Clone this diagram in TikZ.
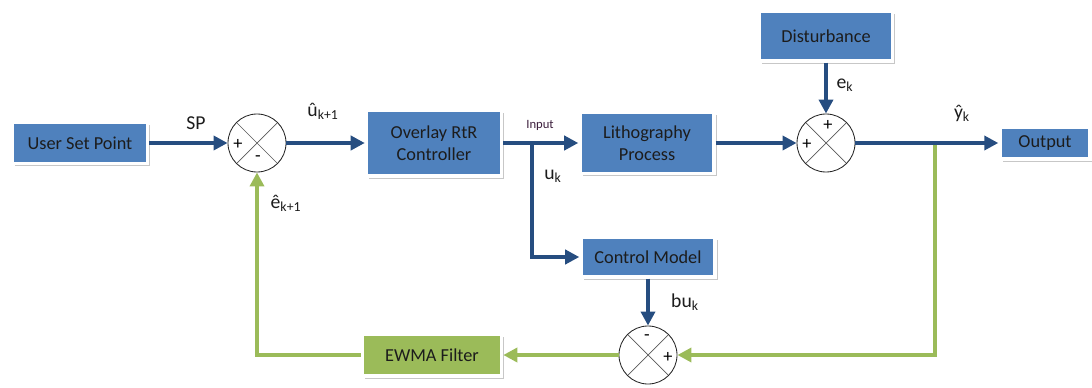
\documentclass[tikz,border=0pt]{standalone}
\usepackage{fontspec}
\setmainfont{Carlito}
\usetikzlibrary{arrows.meta,positioning,shadows}
\definecolor{ovlBlue}{HTML}{4F81BD}
\definecolor{ovlNavy}{HTML}{264D80}
\definecolor{ovlGreen}{HTML}{9BBB59}
\definecolor{ovlText}{HTML}{1C1C1C}
\definecolor{ovlPurple}{HTML}{3C1E3C}

\begin{document}
\begin{tikzpicture}[x=0.025cm,y=-0.025cm,font=\fontsize{13}{15.5}\selectfont,
    blk/.style={draw=white,line width=2.4pt,fill=ovlBlue,text=ovlText,
                align=center,inner sep=2pt,
                drop shadow={shadow xshift=2pt,shadow yshift=-2pt,fill=black!22,opacity=1}},
    gblk/.style={blk,fill=ovlGreen},
    sum/.style={circle,draw=black!85,line width=0.6pt,fill=white,
                minimum size=1.45cm,inner sep=0pt,
                path picture={\draw[black!65,line width=0.5pt]
                  (path picture bounding box.north west) -- (path picture bounding box.south east)
                  (path picture bounding box.north east) -- (path picture bounding box.south west);}},
    flow/.style={draw=ovlNavy,line width=3pt,-{Triangle[length=10pt,width=10pt]}},
    fb/.style={draw=ovlGreen,line width=3pt,-{Triangle[length=10pt,width=10pt]}},
    sgn/.style={font=\fontsize{13}{13}\selectfont,inner sep=0pt},
    lbl/.style={font=\fontsize{14}{16}\selectfont,text=ovlText,inner sep=1pt}]
  \useasboundingbox (0,0) rectangle (1092,388);

  % blocks
  \node[blk,minimum width=3.375cm,minimum height=1.03cm] (usp) at (80,143) {User Set Point};
  \node[blk,minimum width=3.375cm,minimum height=1.65cm] (ctrl) at (434,143) {Overlay RtR\\Controller};
  \node[blk,minimum width=3.35cm,minimum height=1.52cm] (litho) at (647,143) {Lithography\\Process};
  \node[blk,minimum width=3.35cm,minimum height=1.0cm] (model) at (648,257) {Control Model};
  \node[blk,minimum width=3.33cm,minimum height=1.25cm] (dist) at (826,36) {Disturbance};
  \node[blk,minimum width=2.25cm,minimum height=0.8cm] (out) at (1045,143) {Output};
  \node[gblk,minimum width=3.48cm,minimum height=1.05cm] (ewma) at (432,355) {EWMA Filter};

  % summing junctions
  \node[sum] (sum1) at (257,143) {};
  \node[sum] (sum2) at (826,143) {};
  \node[sum] (sum3) at (648,355) {};
  \node[sgn] (s1a) at (238,144) {+};
  \node[sgn] (s1b) at (258,159) {-};
  \node[sgn] (s2a) at (828,125) {+};
  \node[sgn] (s2b) at (807,144) {+};
  \node[sgn] (s3a) at (647,338) {-};
  \node[sgn] (s3b) at (668,357) {+};

  % feedback path
  \coordinate (tap) at (935,143);
  \draw[fb] (tap) |- (sum3);
  \draw[fb] (sum3) -- (ewma);
  \draw[fb] (ewma.west) -| (sum1);

  % forward path
  \coordinate (br) at (532,143);
  \draw[flow] (usp) -- (sum1);
  \draw[flow] (sum1) -- (ctrl);
  \draw[flow] (ctrl) -- (litho);
  \draw[flow] (br) |- (model);
  \draw[flow] (litho) -- (sum2);
  \draw[flow] (dist) -- (sum2);
  \draw[flow] (sum2) -- (out);
  \draw[flow] (model) -- (sum3);

  % signal labels
  \node[lbl] (sp) at (196,123) {SP};
  \node[lbl] (uhat) at (323,111) {û\textsubscript{k+1}};
  \node[lbl] (ehat) at (286,203) {ê\textsubscript{k+1}};
  \node[font=\fontsize{9}{10}\selectfont,text=ovlPurple] (inp) at (540,125) {Input};
  \node[lbl] (uk) at (553,176) {u\textsubscript{k}};
  \node[lbl] (ek) at (845,85) {e\textsubscript{k}};
  \node[lbl] (yhat) at (962,113) {ŷ\textsubscript{k}};
  \node[lbl] (buk) at (685,302) {bu\textsubscript{k}};
\end{tikzpicture}
\end{document}
